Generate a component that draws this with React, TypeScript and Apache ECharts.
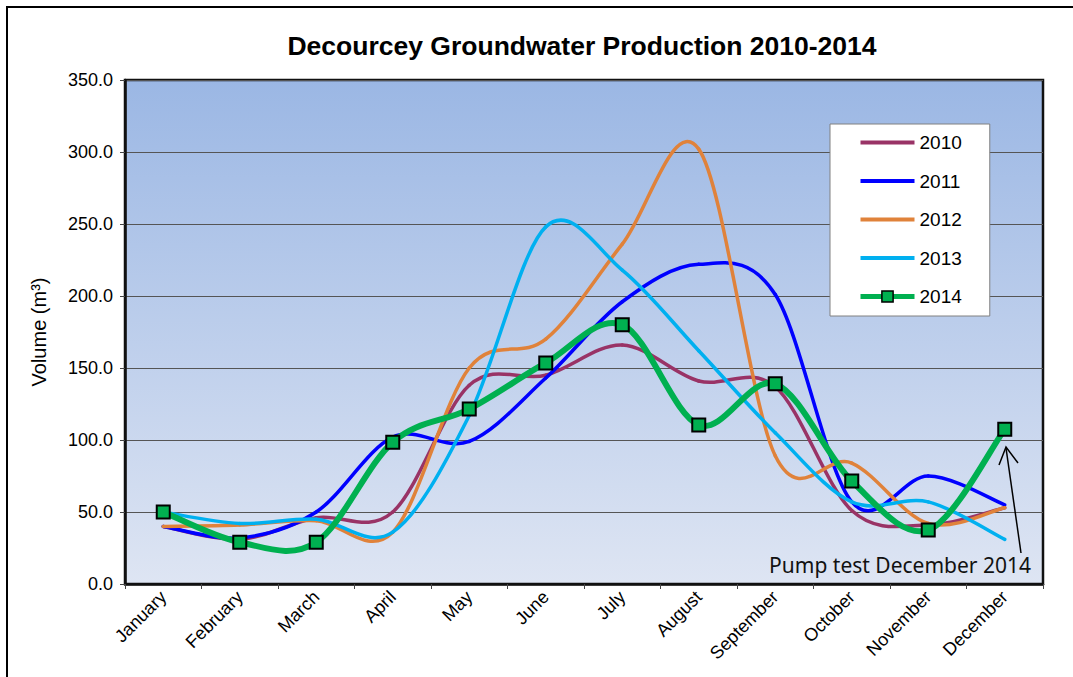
import React, { useEffect, useRef } from "react";
import * as echarts from "echarts";

const months = ["January", "February", "March", "April", "May", "June", "July", "August", "September", "October", "November", "December"];
const yTicks = { min: 0, max: 350, interval: 50 };
const years = ["2010", "2011", "2012", "2013", "2014"];
const v2010 = [40, 31, 46, 50, 138, 145, 166, 141, 137, 51, 41, 53];
const v2011 = [40, 32, 50, 102, 99, 143, 196, 222, 201, 57, 75, 55];
const v2012 = [40, 41, 44, 36, 150, 170, 236, 302, 89, 84, 42, 53];
const v2013 = [50, 42, 45, 36, 117, 248, 218, 162, 105, 57, 57, 31];
const v2014 = [50, 29, 29, 98.5, 121.5, 153.5, 180, 110.5, 139, 71.5, 37.5, 107.5];
const annotation = "Pump test December 2014";

const colors: Record<string, string> = {
  "2010": "#993366",
  "2011": "#0000FF",
  "2012": "#E0823A",
  "2013": "#00B0F0",
  "2014": "#00B050",
};

// Excel-style smoothed curve: each segment drawn as a cubic Bezier from the data points
// mapped through the chart's own coordinate system.
function curveSeries(name: string, values: number[], width: number, z: number) {
  const color = colors[name];
  const n = values.length;
  return {
    name,
    type: "custom",
    z,
    data: values.map((v, i) => [i, v]),
    encode: { x: 0, y: 1 },
    itemStyle: { color },
    clip: false,
    renderItem: (params: any, api: any) => {
      const i = params.dataIndexInside;
      if (i >= n - 1) return null;
      const pt = (j: number) => {
        const k = Math.max(0, Math.min(n - 1, j));
        return api.coord([api.value(0, k), api.value(1, k)]);
      };
      const p0 = pt(i - 1);
      const p1 = pt(i);
      const p2 = pt(i + 1);
      const p3 = pt(i + 2);
      const t = 1 / 6;
      return {
        type: "bezierCurve",
        silent: true,
        shape: {
          x1: p1[0],
          y1: p1[1],
          cpx1: p1[0] + (p2[0] - p0[0]) * t,
          cpy1: p1[1] + (p2[1] - p0[1]) * t,
          cpx2: p2[0] - (p3[0] - p1[0]) * t,
          cpy2: p2[1] - (p3[1] - p1[1]) * t,
          x2: p2[0],
          y2: p2[1],
        },
        style: { stroke: color, lineWidth: width, fill: "none", lineCap: "round" },
      };
    },
  };
}

export default function App() {
  const ref = useRef<HTMLDivElement>(null);
  useEffect(() => {
    if (!ref.current) return;
    const chart = echarts.init(ref.current, null, { renderer: "svg" });
    const font = "'Liberation Sans', Arial, sans-serif";
    const barIcon = "path://M0,0h54v4h-54z";
    chart.setOption({
      animation: false,
      backgroundColor: "#ffffff",
      title: {
        text: "Decourcey Groundwater Production 2010-2014",
        left: 577,
        top: 27,
        textAlign: "center",
        textStyle: { fontFamily: font, fontWeight: "bold", fontSize: 26.5, color: "#000" },
      },
      grid: {
        left: 125,
        right: 30,
        top: 80,
        bottom: 93,
        show: true,
        borderColor: "#111",
        borderWidth: 2.5,
        backgroundColor: new echarts.graphic.LinearGradient(0, 0, 0, 1, [
          { offset: 0, color: "rgb(155,183,228)" },
          { offset: 1, color: "rgb(222,229,243)" },
        ]),
      },
      legend: {
        orient: "vertical",
        left: 830,
        top: 124,
        itemWidth: 54,
        itemHeight: 14,
        itemGap: 19.5,
        padding: [9, 28, 10, 28],
        backgroundColor: "#ffffff",
        borderColor: "#808080",
        borderWidth: 1,
        textStyle: { fontFamily: font, fontSize: 19, color: "#000" },
        data: years.map((y) =>
          y === "2014"
            ? {
                name: y,
                lineStyle: { color: colors[y], width: 5, opacity: 1 },
                itemStyle: { color: colors[y], borderColor: "#000", borderWidth: 1.5, opacity: 1 },
              }
            : { name: y, icon: barIcon, itemStyle: { color: colors[y] } }
        ),
      },
      xAxis: {
        type: "category",
        data: months,
        boundaryGap: true,
        axisLine: { show: true, lineStyle: { color: "#111", width: 2.5 } },
        axisTick: { show: true, length: 5, interval: 0, lineStyle: { color: "#444", width: 1 } },
        axisLabel: { rotate: 45, interval: 0, margin: 10, fontFamily: font, fontSize: 18, color: "#000" },
        splitLine: { show: false },
      },
      yAxis: {
        type: "value",
        min: yTicks.min,
        max: yTicks.max,
        interval: yTicks.interval,
        name: "Volume (m³)",
        nameLocation: "middle",
        nameGap: 76,
        nameTextStyle: { fontFamily: font, fontSize: 20, color: "#000" },
        axisLine: { show: true, lineStyle: { color: "#111", width: 2.5 } },
        axisTick: { show: true, length: 5, lineStyle: { color: "#444", width: 1 } },
        axisLabel: {
          margin: 12,
          fontFamily: font,
          fontSize: 18,
          color: "#000",
          formatter: (v: number) => v.toFixed(1),
        },
        splitLine: { show: true, lineStyle: { color: "#555", width: 1 } },
      },
      series: [
        {
          name: "2014",
          type: "line",
          data: v2014,
          symbol: "rect",
          symbolSize: 13,
          lineStyle: { color: colors["2014"], width: 5, opacity: 0 },
          itemStyle: { color: colors["2014"], borderColor: "#000", borderWidth: 2 },
          z: 7,
        },
        curveSeries("2010", v2010, 3.5, 3),
        curveSeries("2011", v2011, 3.5, 3),
        curveSeries("2012", v2012, 3.5, 3),
        curveSeries("2013", v2013, 3.5, 3),
        curveSeries("2014", v2014, 6, 5),
      ],
      graphic: [
        {
          type: "rect",
          shape: { x: 7, y: 7, width: 1100, height: 700 },
          style: { fill: "none", stroke: "#000", lineWidth: 2 },
          silent: true,
        },
        {
          type: "line",
          shape: { x1: 1021, y1: 553, x2: 1006, y2: 448 },
          style: { stroke: "#000", lineWidth: 1.5 },
          z: 10,
        },
        {
          type: "polyline",
          shape: { points: [[999, 465], [1006, 447], [1018, 463]] },
          style: { stroke: "#000", lineWidth: 1.5, fill: "none" },
          z: 10,
        },
        {
          type: "text",
          x: 1031,
          y: 565,
          style: {
            text: annotation,
            fontFamily: "'Noto Sans', sans-serif",
            fontSize: 21,
            fill: "#111",
            textAlign: "right",
            textVerticalAlign: "middle",
          },
          z: 10,
        },
      ],
    });
    return () => chart.dispose();
  }, []);
  return (
    <div
      ref={ref}
      style={{ position: "fixed", left: 0, top: 0, width: 1073, height: 677, background: "#fff" }}
    />
  );
}
